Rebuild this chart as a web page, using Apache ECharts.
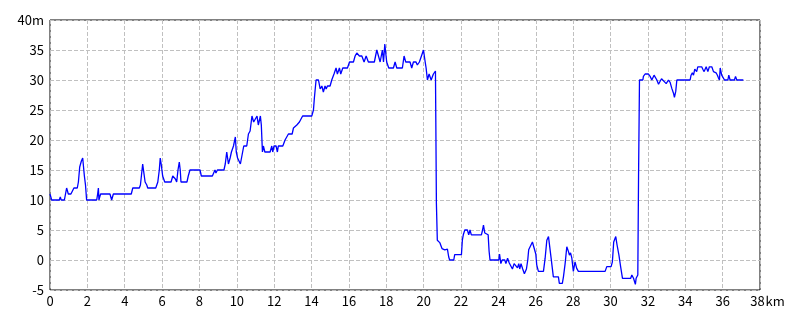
<!DOCTYPE html>
<html>
<head>
<meta charset="utf-8">
<script src="https://cdn.jsdelivr.net/npm/echarts@6/dist/echarts.min.js"></script>
<style>
html,body{margin:0;padding:0;background:#fff;}
#chart{width:800px;height:320px;}
</style>
</head>
<body>
<div id="chart"></div>
<script>
const distanceKm = [
0.00,0.09,0.50,0.55,0.60,0.77,0.89,0.98,1.12,1.20,1.28,1.46,1.52,1.59,1.68,1.75,1.79,1.84,1.90,1.96,
2.50,2.55,2.59,2.62,2.66,2.71,3.21,3.30,3.39,4.35,4.43,4.78,4.84,4.96,5.03,5.09,5.18,5.23,5.66,5.77,
5.85,5.90,5.95,6.03,6.14,6.48,6.57,6.64,6.71,6.78,6.85,6.92,6.97,7.01,7.33,7.40,7.49,8.03,8.10,8.69,
8.76,8.83,8.88,8.96,9.31,9.38,9.46,9.55,9.64,9.71,9.82,9.92,9.97,10.04,10.19,10.28,10.37,10.53,10.62,10.71,
10.81,10.90,10.99,11.08,11.15,11.26,11.31,11.37,11.42,11.50,11.60,11.78,11.87,11.92,11.99,12.10,12.17,12.22,12.46,12.58,
12.67,12.76,12.96,13.03,13.21,13.35,13.52,14.01,14.10,14.15,14.24,14.37,14.46,14.55,14.63,14.72,14.78,14.85,14.99,15.08,
15.20,15.31,15.38,15.49,15.56,15.67,15.92,16.03,16.24,16.33,16.42,16.56,16.69,16.81,16.92,17.04,17.36,17.49,17.67,17.79,
17.85,17.92,18.02,18.13,18.38,18.47,18.56,18.86,18.95,19.04,19.27,19.36,19.45,19.59,19.66,19.77,19.88,19.99,20.08,20.13,
20.20,20.29,20.40,20.52,20.63,20.65,20.68,20.73,20.86,20.98,21.13,21.18,21.27,21.34,21.39,21.61,21.66,22.02,22.07,22.12,
22.20,22.34,22.41,22.48,22.55,23.09,23.15,23.20,23.27,23.32,23.45,23.50,23.55,24.02,24.06,24.13,24.20,24.34,24.40,24.49,
24.58,24.67,24.75,24.84,24.93,25.02,25.09,25.14,25.21,25.30,25.39,25.50,25.57,25.62,25.71,25.82,25.91,26.00,26.05,26.14,
26.41,26.50,26.59,26.68,26.74,26.82,26.94,27.21,27.26,27.42,27.48,27.57,27.66,27.75,27.80,27.86,27.93,28.01,28.10,28.19,
28.28,29.71,29.80,30.03,30.10,30.17,30.28,30.35,30.45,30.54,30.64,30.96,31.01,31.08,31.14,31.23,31.33,31.37,31.46,31.50,
31.55,31.73,31.76,31.85,31.94,32.03,32.12,32.21,32.33,32.39,32.48,32.57,32.64,32.73,32.82,32.98,33.10,33.19,33.28,33.37,
33.42,33.49,33.55,34.26,34.31,34.38,34.44,34.51,34.61,34.67,34.88,34.94,35.01,35.12,35.21,35.29,35.42,35.51,35.65,35.72,
35.77,35.83,35.87,35.95,36.01,36.10,36.28,36.33,36.40,36.63,36.69,36.76,37.11
];
const elevationM = [
11,10,10,10.5,10,10,12,11,11,11.5,12,12,13,15.5,16.5,17,16.8,14,12.5,10,
10,11,12,10,10.5,11,11,10,11,11,12,12,12.5,16,15.8,13,12.5,12,12,13,
15,17,16,14,13,13,14,14,13.5,13,15,16.3,15,13,13,14,15,15,14,14,
14.5,15,14.5,15,15,16,18,16,17,18,19,20.5,18,17,16,16,19,19,21,21.5,
24,23,23.5,24,22.5,24,22.5,18,19,18,18,18,19,18,19,19,18,19,19,20,
20.5,21,21,22,22.5,23,24,24,25,27,30,30,28.5,29,28,29,28.5,29,29,30,
31,32,31,32,31,32,32,33,33,34,34.5,34,34,33,34,33,33,35,33,35,
33,36,33,32,32,33,32,32,34,33,33,32,33,33,32.5,33,34,35,33,32,
30,31,30,31,31.5,23,9.5,3.3,2.9,1.9,1.7,1.4,1.8,0.5,0,0,0.9,0.9,3.3,4.2,
5,5,4.2,5,4.2,4.2,5,5.8,4.5,4.2,4.2,1.5,0,0,1,-0.6,0,0,-0.6,0.3,
-0.5,-0.5,-1.5,-0.6,-0.6,-1.3,-0.6,-1.5,-0.6,-1.5,-2.3,-1.5,0,1.7,2,3,2,1,-0.8,-1.9,
-1.9,0.3,3.3,3.9,3.9,0.3,-2.8,-2.8,-3.9,-3.9,-2.8,-0.6,2.2,1.4,0.8,1.2,0.3,-1.9,-0.3,-1.4,
-1.9,-1.9,-1.1,-1.1,-0.3,3.0,3.9,2.5,0.8,-1.1,-3.05,-3.05,-2.8,-3.05,-2.5,-3.05,-4.05,-3.05,-2.5,14,
30,30,30.6,31,30.8,31,30.6,30,30.8,30.8,30,29.3,29.7,30.2,30,29.4,30,29.6,28.6,27.8,
27.1,28.1,30,30,30.8,31.2,30.8,31.8,31.4,32.2,32.2,31.8,31.4,32.2,31.4,32.2,32.2,31.4,31.2,30.8,
30.4,30,32,30.8,31,30,30,30.8,30,30,30.6,30,30
];
const xTicks = [0,2,4,6,8,10,12,14,16,18,20,22,24,26,28,30,32,34,36,38];
const yTicks = [-5,0,5,10,15,20,25,30,35,40];
const xUnit = 'km';
const yUnit = 'm';

const seriesData = distanceKm.map((d, i) => [d, elevationM[i]]);
const fontFam = '"Liberation Sans Narrow", "Noto Sans CJK JP", sans-serif';
const xMax = xTicks[xTicks.length - 1];
const yMax = yTicks[yTicks.length - 1];

const chart = echarts.init(document.getElementById('chart'), null, {renderer: 'canvas'});
chart.setOption({
  animation: false,
  backgroundColor: '#fff',
  grid: {left: 50, right: 40, top: 20, bottom: 30, show: true, borderColor: '#000', borderWidth: 1, backgroundColor: 'transparent'},
  xAxis: {
    type: 'value',
    min: xTicks[0], max: xMax, interval: 2,
    axisLine: {show: false},
    axisTick: {show: false},
    axisLabel: {
      color: '#000', fontSize: 13, fontFamily: fontFam, margin: 5,
      formatter: v => v === xMax ? '{p|}' + v + '{u|' + xUnit + '}' : String(v),
      rich: {
        p: {width: 15, fontSize: 13, fontFamily: fontFam},
        u: {color: '#000', fontSize: 13, fontFamily: fontFam, padding: [0, 0, 0, 1]}
      }
    },
    splitLine: {show: true, lineStyle: {color: '#c0c0c0', type: [4, 2], width: 1}}
  },
  yAxis: {
    type: 'value',
    min: yTicks[0], max: yMax, interval: 5,
    axisLine: {show: false},
    axisTick: {show: false},
    axisLabel: {color: '#000', fontSize: 13, fontFamily: fontFam, margin: 6,
      formatter: v => v === yMax ? v + yUnit : String(v)},
    splitLine: {show: true, lineStyle: {color: '#c0c0c0', type: [4, 2], width: 1}}
  },
  series: [{
    type: 'line',
    data: seriesData,
    showSymbol: false,
    lineStyle: {color: '#0000ff', width: 1.3},
    itemStyle: {color: '#0000ff'},
    z: 5
  }]
});
</script>
</body>
</html>
